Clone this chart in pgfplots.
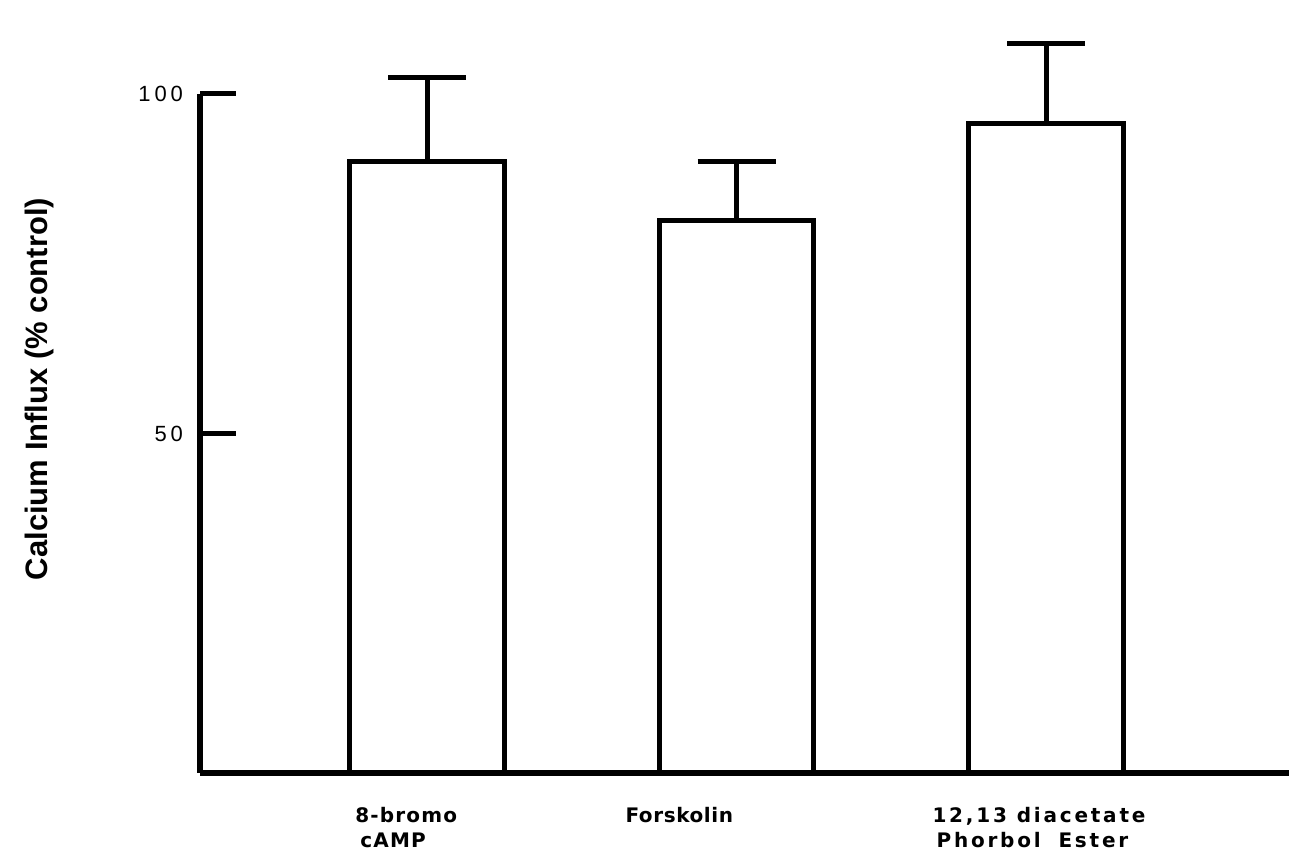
\documentclass[border=0pt]{standalone}
\usepackage{fontspec}
\setmainfont{Liberation Sans}
\newfontfamily\spaced[LetterSpace=18]{Liberation Sans}
\newfontfamily\lblA[LetterSpace=6]{DejaVu Sans}
\newfontfamily\lblB[LetterSpace=3]{DejaVu Sans}
\newfontfamily\lblC[LetterSpace=14]{DejaVu Sans}
\usepackage{pgfplots}
\pgfplotsset{compat=1.18}
\begin{document}
\begin{tikzpicture}
\begin{axis}[
  scale only axis,
  width=544.5pt, height=339.5pt,
  xmin=0.2666, xmax=3.785,
  ymin=0, ymax=100,
  clip=false,
  axis x line=bottom, axis y line=left,
  axis line style={-, line width=2.8pt, black},
  xtick=\empty,
  ytick={50,100},
  yticklabels={50,100},
  tick align=inside,
  major tick length=18pt,
  ytick style={line width=2.5pt, black},
  yticklabel style={font=\spaced\fontsize{11}{12}\selectfont, xshift=-5pt},
  /pgf/number format/assume math mode=true,
  ylabel={Calcium Influx (\% control)},
  ylabel style={at={(axis description cs:-0.147,0.5655)}, anchor=center, font=\bfseries\fontsize{15.5}{18}\selectfont},
]
\addplot[ybar, bar width=0.5, draw=black, fill=white, line width=2.5pt,
  error bars/.cd, y dir=plus, y explicit,
  error bar style={line width=2.5pt, black},
  error mark options={rotate=90, mark size=19.5pt, line width=2.5pt, black}]
  coordinates {
  (1,90.1) +- (0,12.3)
  (2,81.3) +- (0,8.7)
  (3,95.7) +- (0,11.7)
  };
\node[anchor=north west, align=left, inner sep=0pt, font=\lblA\bfseries\fontsize{10}{12.5}\selectfont] at (axis cs:0.767,-5.0) {8-bromo\\\hspace{2.5pt}cAMP};
\node[anchor=north west, align=left, inner sep=0pt, font=\lblB\bfseries\fontsize{10}{12.5}\selectfont] at (axis cs:1.640,-5.0) {Forskolin};
\node[anchor=north west, align=left, inner sep=0pt, font=\lblC\bfseries\fontsize{10}{12.5}\selectfont] at (axis cs:2.632,-5.0) {12,13 diacetate\\\hspace{2pt}Phorbol\hspace{4pt} Ester};
\coordinate (bbSW) at (rel axis cs:-0.1837,-0.1267);
\coordinate (bbNE) at (rel axis cs:1,1.1384);
\end{axis}
\pgfresetboundingbox
\useasboundingbox (bbSW) rectangle (bbNE);
\end{tikzpicture}
\end{document}
